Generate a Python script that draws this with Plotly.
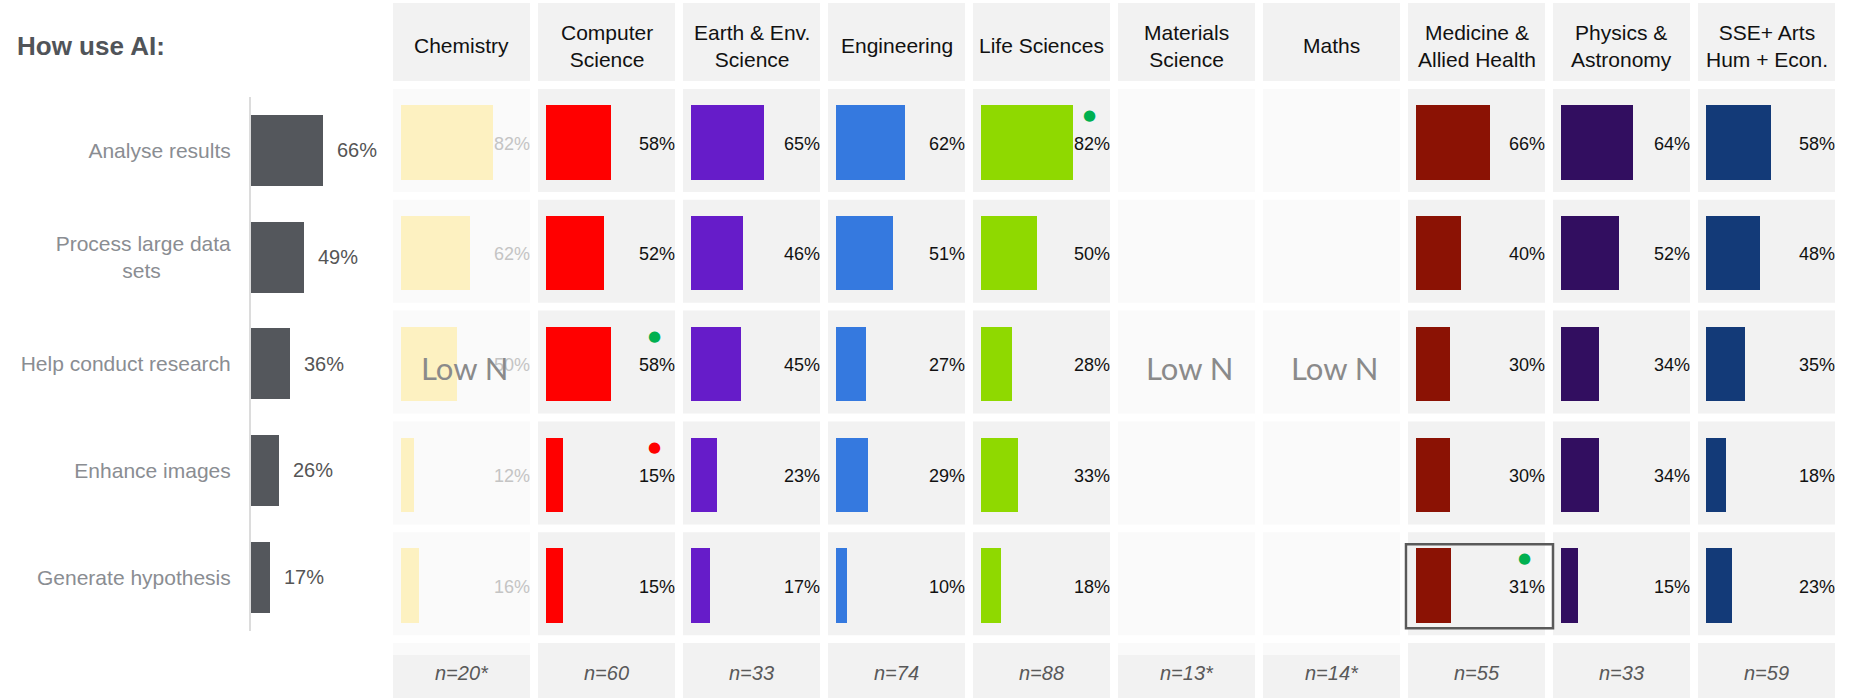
import plotly.graph_objects as go

# ---- data -------------------------------------------------------------
uses = ["Analyse results", "Process large data sets", "Help conduct research",
        "Enhance images", "Generate hypothesis"]
use_ticktext = ["Analyse results", "Process large data<br>sets" + "\u00a0" * 12,
                "Help conduct research", "Enhance images", "Generate hypothesis"]
overall_pct = [66, 49, 36, 26, 17]

fields = ["Chemistry", "Computer<br>Science", "Earth & Env.<br>Science", "Engineering",
          "Life Sciences", "Materials<br>Science", "Maths", "Medicine &<br>Allied Health",
          "Physics &<br>Astronomy", "SSE+ Arts<br>Hum + Econ."]
sample_sizes = ["n=20*", "n=60", "n=33", "n=74", "n=88", "n=13*", "n=14*", "n=55", "n=33", "n=59"]
low_n = [True, False, False, False, False, True, True, False, False, False]

chemistry = [82, 62, 50, 12, 16]
computer_science = [58, 52, 58, 15, 15]
earth_env = [65, 46, 45, 23, 17]
engineering = [62, 51, 27, 29, 10]
life_sciences = [82, 50, 28, 33, 18]
medicine = [66, 40, 30, 30, 31]
physics = [64, 52, 34, 34, 15]
sse_arts = [58, 48, 35, 18, 23]

field_values = [chemistry, computer_science, earth_env, engineering, life_sciences,
                None, None, medicine, physics, sse_arts]
field_colors = ["#fdf1c1", "#ff0000", "#661cc9", "#3579df", "#8fd900",
                None, None, "#8b1204", "#320e60", "#133a78"]

# (field index, use index, colour) of the significance markers
markers = [(1, 2, "#00b050"), (1, 3, "#ff0000"), (4, 0, "#00b050"), (7, 4, "#00b050")]
boxed_cell = (7, 4)

# ---- layout geometry (pixels) ---------------------------------------
W, H = 1855, 698
COL_LEFT0, COL_PITCH, COL_W = 393, 145, 137
HEAD_TOP, HEAD_BOT = 3, 81
ROW_TOP0, ROW_PITCH, ROW_H = 89, 110.8, 103
FOOT_TOP = 643
PX_PER_PCT = 1.12
BAR_PAD = 8

LEFT_AX_X0, LEFT_AX_X1 = 251, 400
LEFT_PX_PER_PCT = 1.09
LEFT_TOP, LEFT_PITCH = 97, 106.7

FONT = "Arial, Liberation Sans, sans-serif"


def px_x(x):
    return x / W


def px_y(y):
    return 1 - y / H


fig = go.Figure()
shapes = []
annotations = []

# ---- overall panel --------------------------------------------------
fig.add_trace(go.Bar(
    x=overall_pct, y=uses, orientation="h", xaxis="x", yaxis="y2",
    marker=dict(color="#54575c", line=dict(width=0)), width=0.665,
    hoverinfo="skip", showlegend=False,
))
for u, v in zip(uses, overall_pct):
    annotations.append(dict(
        x=v, y=u, xref="x", yref="y2", text=f"{v}%", showarrow=False,
        xanchor="left", xshift=12, font=dict(family=FONT, size=20, color="#555555"),
    ))

left_dom_top = LEFT_TOP
left_dom_bot = LEFT_TOP + 5 * LEFT_PITCH
layout_axes = dict(
    xaxis=dict(domain=[px_x(LEFT_AX_X0), px_x(LEFT_AX_X1)],
               range=[0, (LEFT_AX_X1 - LEFT_AX_X0) / LEFT_PX_PER_PCT],
               visible=False, anchor="y2", fixedrange=True),
    yaxis2=dict(domain=[px_y(left_dom_bot), px_y(left_dom_top)], anchor="x",
                type="category", categoryorder="array", categoryarray=uses,
                range=[4.5, -0.5], showline=True, linecolor="#dcdcdc", linewidth=2,
                tickmode="array", tickvals=uses, ticktext=use_ticktext,
                ticks="", ticklabelstandoff=14, showgrid=False, zeroline=False,
                tickfont=dict(family=FONT, size=21, color="#8a8d92")),
)

# ---- grid y axis shared by all field columns ------------------------
grid_dom_top = ROW_TOP0 + ROW_H / 2 + 2 - ROW_PITCH / 2
grid_dom_bot = grid_dom_top + 5 * ROW_PITCH
layout_axes["yaxis"] = dict(
    domain=[px_y(grid_dom_bot), px_y(grid_dom_top)], anchor="x2",
    type="category", categoryorder="array", categoryarray=uses,
    range=[4.5, -0.5], visible=False, fixedrange=True,
)

# ---- field columns --------------------------------------------------
for i, name in enumerate(fields):
    ax_n = i + 2
    xname = f"x{ax_n}"
    left = COL_LEFT0 + i * COL_PITCH
    right = left + COL_W
    layout_axes[f"xaxis{ax_n}"] = dict(
        domain=[px_x(left), px_x(right)],
        range=[-BAR_PAD / PX_PER_PCT, (COL_W - BAR_PAD) / PX_PER_PCT],
        visible=False, anchor="y", fixedrange=True,
    )
    cell_bg = "#fafafa" if low_n[i] else "#f2f2f2"

    # header box + label
    shapes.append(dict(type="rect", xref="paper", yref="paper",
                       x0=px_x(left), x1=px_x(right), y0=px_y(HEAD_BOT), y1=px_y(HEAD_TOP),
                       fillcolor="#f2f2f2", line=dict(width=0), layer="below"))
    annotations.append(dict(x=px_x((left + right) / 2), y=px_y(46), xref="paper", yref="paper",
                            text=name, showarrow=False, xanchor="center", yanchor="middle",
                            font=dict(family=FONT, size=21, color="#111111")))

    # row cells
    for r in range(len(uses)):
        top = ROW_TOP0 + r * ROW_PITCH
        shapes.append(dict(type="rect", xref="paper", yref="paper",
                           x0=px_x(left), x1=px_x(right),
                           y0=px_y(top + ROW_H), y1=px_y(top),
                           fillcolor=cell_bg, line=dict(width=0), layer="below"))

    # footer
    foot_top = FOOT_TOP + (12 if low_n[i] else 0)
    if low_n[i]:
        shapes.append(dict(type="rect", xref="paper", yref="paper",
                           x0=px_x(left), x1=px_x(right), y0=px_y(foot_top), y1=px_y(FOOT_TOP),
                           fillcolor="#fafafa", line=dict(width=0), layer="below"))
    shapes.append(dict(type="rect", xref="paper", yref="paper",
                       x0=px_x(left), x1=px_x(right), y0=0, y1=px_y(foot_top),
                       fillcolor="#f2f2f2", line=dict(width=0), layer="below"))
    annotations.append(dict(x=px_x((left + right) / 2), y=px_y(673), xref="paper", yref="paper",
                            text=f"<i>{sample_sizes[i]}</i>", showarrow=False,
                            xanchor="center", yanchor="middle",
                            font=dict(family=FONT, size=20, color="#595959")))

    vals = field_values[i]
    if vals is not None:
        fig.add_trace(go.Bar(
            x=vals, y=uses, orientation="h", xaxis=xname, yaxis="y",
            marker=dict(color=field_colors[i], line=dict(width=0)), width=0.67,
            hoverinfo="skip", showlegend=False,
        ))
        label_col = "#c4c4c4" if low_n[i] else "#111111"
        for u, v in zip(uses, vals):
            annotations.append(dict(
                x=1, y=u, xref=f"{xname} domain", yref="y", text=f"{v}%",
                showarrow=False, xanchor="right", yanchor="middle", xshift=2, yshift=-1,
                font=dict(family=FONT, size=18, color=label_col),
            ))

    if low_n[i]:
        annotations.append(dict(
            x=px_x((left + right) / 2 + 3), y=px_y(368), xref="paper", yref="paper",
            text="Low N", showarrow=False, xanchor="center", yanchor="middle",
            font=dict(family="Lato, Noto Sans, sans-serif", size=31, color="#8a8a8a"),
        ))

# significance markers
for fi, ui, col in markers:
    annotations.append(dict(
        x=1, y=uses[ui], xref=f"x{fi + 2} domain", yref="y", text="●",
        showarrow=False, xanchor="center", yanchor="middle", xshift=-21, yshift=28,
        font=dict(family="DejaVu Sans", size=15, color=col),
    ))

# highlighted cell outline
bf, bu = boxed_cell
b_left = COL_LEFT0 + bf * COL_PITCH
b_top = ROW_TOP0 + bu * ROW_PITCH
shapes.append(dict(type="rect", xref="paper", yref="paper",
                   x0=px_x(b_left - 2), x1=px_x(b_left + COL_PITCH),
                   y0=px_y(b_top + ROW_H - 7), y1=px_y(b_top + 12),
                   line=dict(color="#5a5a5a", width=2.5), fillcolor="rgba(0,0,0,0)", layer="above"))

# title
annotations.append(dict(x=px_x(15), y=px_y(46), xref="paper", yref="paper",
                        text="<b>How use AI:</b>", showarrow=False,
                        xanchor="left", yanchor="middle",
                        font=dict(family=FONT, size=26, color="#505459")))

fig.update_layout(
    width=W, height=H, margin=dict(l=0, r=0, t=0, b=0),
    paper_bgcolor="white", plot_bgcolor="rgba(0,0,0,0)",
    shapes=shapes, annotations=annotations, bargap=0,
    **layout_axes,
)

fig.write_html("out.html")
